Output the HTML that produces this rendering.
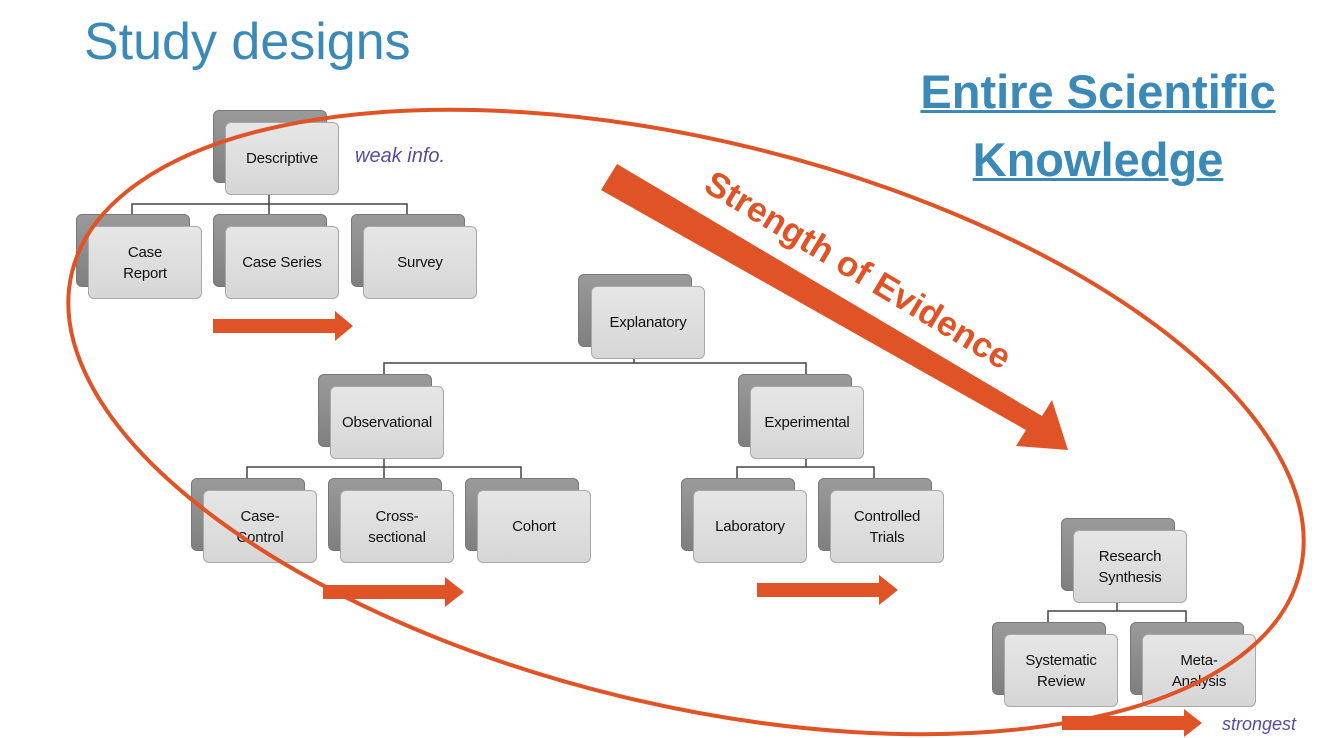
<!DOCTYPE html>
<html><head><meta charset="utf-8"><style>
body{margin:0;width:1334px;height:738px;background:#fff;overflow:hidden;position:relative;font-family:"Liberation Sans",sans-serif}
.b{position:absolute;width:112px;height:71px;border-radius:6px;background:linear-gradient(#9a9a9a,#7f7f7f);border:1px solid #777}
.f{position:absolute;width:112px;height:71px;border-radius:6px;background:linear-gradient(#e6e6e6,#d6d6d6);border:1px solid #a8a8a8;display:flex;align-items:center;justify-content:center;text-align:center;font-size:15px;line-height:21px;color:#111;letter-spacing:-0.2px}
</style></head><body>
<div style="position:absolute;left:84px;top:12px;font-size:52px;color:#3b89b6">Study designs</div>
<div style="position:absolute;left:900px;top:58px;width:396px;text-align:center;font-size:47px;line-height:68px;font-weight:bold;color:#3b89b6;text-decoration:underline;text-decoration-thickness:3px">Entire Scientific<br>Knowledge</div>
<svg width="1334" height="738" style="position:absolute;left:0;top:0">
<g stroke="#444" stroke-width="1.5" fill="none">
<path d="M269 182V204M132 214V204H407V214M269 204V214"/>
<path d="M634 344V363M384 375V363H806V375"/>
<path d="M384 446V467M247 479V467H521V479M384 467V479"/>
<path d="M806 446V467M737 479V467H874V479"/>
<path d="M1117 590V611M1048 623V611H1186V623"/>
</g>
</svg>
<div class="b" style="left:213px;top:110px"></div><div class="f" style="left:225px;top:122px">Descriptive</div>
<div class="b" style="left:76px;top:214px"></div><div class="f" style="left:88px;top:226px">Case<br>Report</div>
<div class="b" style="left:213px;top:214px"></div><div class="f" style="left:225px;top:226px">Case Series</div>
<div class="b" style="left:351px;top:214px"></div><div class="f" style="left:363px;top:226px">Survey</div>
<div class="b" style="left:578px;top:274px"></div><div class="f" style="left:591px;top:286px">Explanatory</div>
<div class="b" style="left:318px;top:374px"></div><div class="f" style="left:330px;top:386px">Observational</div>
<div class="b" style="left:738px;top:374px"></div><div class="f" style="left:750px;top:386px">Experimental</div>
<div class="b" style="left:191px;top:478px"></div><div class="f" style="left:203px;top:490px">Case-<br>Control</div>
<div class="b" style="left:328px;top:478px"></div><div class="f" style="left:340px;top:490px">Cross-<br>sectional</div>
<div class="b" style="left:465px;top:478px"></div><div class="f" style="left:477px;top:490px">Cohort</div>
<div class="b" style="left:681px;top:478px"></div><div class="f" style="left:693px;top:490px">Laboratory</div>
<div class="b" style="left:818px;top:478px"></div><div class="f" style="left:830px;top:490px">Controlled<br>Trials</div>
<div class="b" style="left:1061px;top:518px"></div><div class="f" style="left:1073px;top:530px">Research<br>Synthesis</div>
<div class="b" style="left:992px;top:622px"></div><div class="f" style="left:1004px;top:634px">Systematic<br>Review</div>
<div class="b" style="left:1130px;top:622px"></div><div class="f" style="left:1142px;top:634px">Meta-<br>Analysis</div>
<svg width="1334" height="738" style="position:absolute;left:0;top:0">
<ellipse cx="686" cy="422" rx="632" ry="282" transform="rotate(13.7 686 422)" fill="none" stroke="#e05326" stroke-width="4"/>
<g fill="#e05326">
<path d="M213 319H335V311L353 326L335 341V333H213Z"/>
<path d="M323 585H445V577L464 592L445 607V599H323Z"/>
<path d="M757 583H879V575L898 590L879 605V597H757Z"/>
<path d="M1062 716H1184V709L1202 723L1184 737V730H1062Z"/>
<path d="M601 190L617 164L1042 416L1052 400L1068 450L1016 446L1026 430Z"/>
</g>
<text x="0" y="0" transform="translate(702 190) rotate(31)" font-family="Liberation Sans" font-weight="bold" font-size="35" textLength="350" lengthAdjust="spacingAndGlyphs" fill="#e05326">Strength of Evidence</text>
<text x="355" y="162" font-family="Liberation Sans" font-style="italic" font-size="20" fill="#5b4b9c">weak info.</text>
<text x="1222" y="730" font-family="Liberation Sans" font-style="italic" font-size="18" fill="#5b4b9c">strongest</text>
</svg>
</body></html>
